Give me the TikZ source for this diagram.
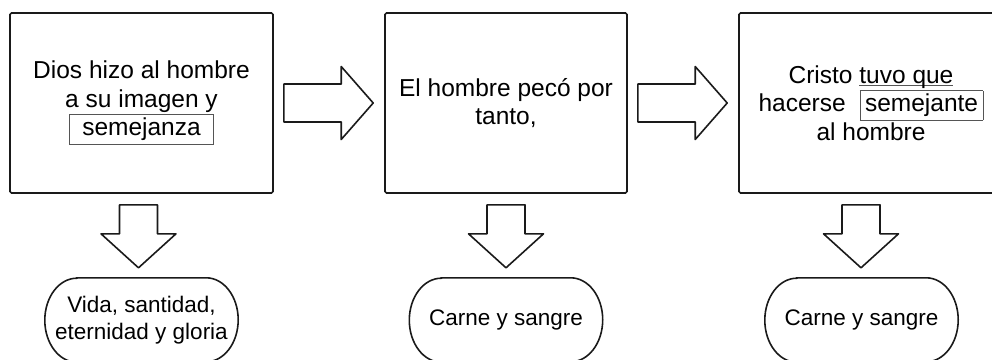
\documentclass[tikz,border=0pt]{standalone}
\usepackage{fontspec}
\setmainfont{Liberation Sans}
\usepackage{xcolor}
\usetikzlibrary{calc, positioning}
\definecolor{LineGray}{HTML}{1A1A1A}
\definecolor{FrameGray}{HTML}{555555}
% framed word: #1 extra side padding, #2 word
\newcommand{\framedword}[2]{{\setlength{\fboxsep}{3pt}\setlength{\fboxrule}{0.8pt}%
  \fcolorbox{FrameGray}{white}{\hspace{#1}#2\hspace{#1}}}}
% underline just below the baseline
\newcommand{\lowline}[1]{\setbox0\hbox{#1}\rlap{\color{FrameGray}\rule[-3.2pt]{\wd0}{1pt}}\box0}

\begin{document}
\begin{tikzpicture}[x=1pt, y=-1pt,
    stepbox/.style={draw=LineGray, line width=1.6pt, rounded corners=1.5pt, minimum height=180pt,
        inner sep=0pt, align=center, font=\fontsize{24.5}{28.5}\selectfont},
    terminal/.style={minimum width=193pt, minimum height=84pt, inner sep=0pt, align=center,
        font=\fontsize{22.5}{27}\selectfont},
    termline/.style={draw=LineGray, line width=1.6pt},
    blockarrow/.style={draw=LineGray, line width=1.6pt, line join=round}]
    \useasboundingbox (0,0) rectangle (992,359);

    % the three statements
    \node[stepbox, minimum width=263pt] (b1) at (141.5,103)
        {Dios hizo al hombre\\a su imagen y\\\framedword{9pt}{semejanza}};
    \node[stepbox, minimum width=242pt] (b2) at (506,103)
        {El hombre pecó por\\tanto,};
    \node[stepbox, minimum width=264pt] (b3) at (871,103)
        {Cristo \lowline{tuvo que}\\hacerse\hspace{14pt}\framedword{1.5pt}{semejante}\\al hombre};

    % results
    \node[terminal, below=84pt of b1] (s1) {Vida, santidad,\\eternidad y gloria};
    \node[terminal, below=84pt of b2] (s2) {Carne y sangre};
    \node[terminal, below=84pt of b3, xshift=-9.5pt] (s3) {Carne y sangre};
    \foreach \s in {s1,s2,s3}
        \draw[termline] ($(\s.north west)+(32,0)$) -- ($(\s.north east)+(-32,0)$)
            arc[start angle=90, end angle=-90, x radius=32pt, y radius=42pt]
            -- ($(\s.south west)+(32,0)$)
            arc[start angle=270, end angle=90, x radius=32pt, y radius=42pt] -- cycle;

    % arrows between the statements
    \foreach \a/\b in {b1/b2, b2/b3}
        \draw[blockarrow] ($(\a.east)+(10,-19)$) -- ($(\b.west)+(-43,-19)$)
            -- ($(\b.west)+(-43,-36.5)$) -- ($(\b.west)+(-11,0)$)
            -- ($(\b.west)+(-43,36.5)$) -- ($(\b.west)+(-43,19)$)
            -- ($(\a.east)+(10,19)$) -- cycle;

    % arrows down to the results
    \foreach \t/\dx in {s1/-3, s2/0, s3/-0.5}
        \draw[blockarrow, shift={($(\t.north)+(\dx,-10)$)}]
            (-19,-63) -- (19,-63) -- (19,-34) -- (37.5,-34) -- (0,0)
            -- (-37.5,-34) -- (-19,-34) -- cycle;
\end{tikzpicture}
\end{document}
